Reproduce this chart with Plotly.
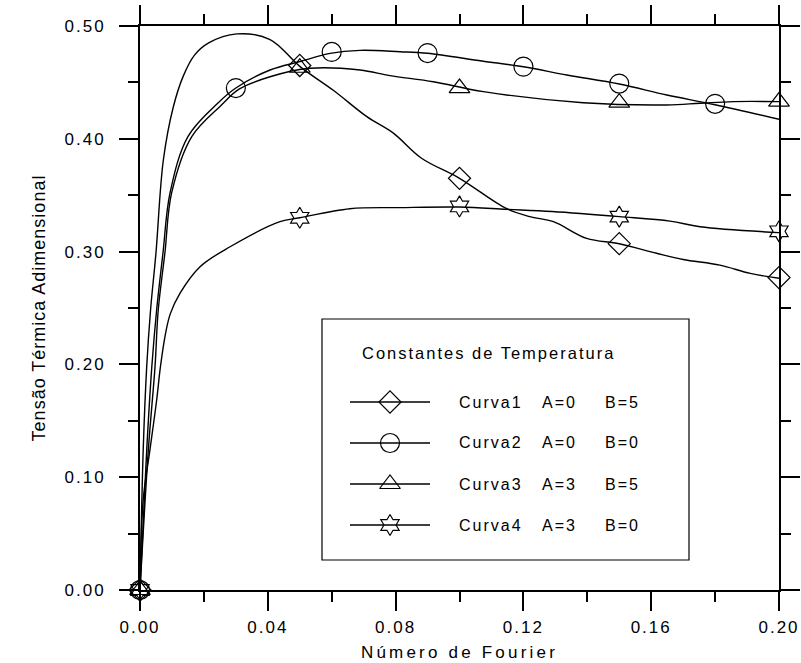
import plotly.graph_objects as go

# ---- data ----
c1_x = [0, 0.001, 0.0021, 0.0033, 0.0050, 0.0073, 0.0104, 0.0136, 0.0170, 0.0215, 0.0303, 0.0407,
        0.0501, 0.0605, 0.071, 0.0793, 0.088, 0.100, 0.1148, 0.122, 0.1294, 0.1398, 0.150,
        0.1617, 0.170, 0.1815, 0.191, 0.2]
c1_y = [0, 0.124, 0.198, 0.248, 0.299, 0.381, 0.428, 0.456, 0.474, 0.485, 0.493, 0.488,
        0.464, 0.443, 0.4196, 0.405, 0.383, 0.365, 0.338, 0.331, 0.3265, 0.3117, 0.307,
        0.2985, 0.293, 0.288, 0.2807, 0.2763]

c2_x = [0, 0.0021, 0.0037, 0.0052, 0.0072, 0.0094, 0.0150, 0.0245, 0.030, 0.0407, 0.0501,
        0.0595, 0.0689, 0.0814, 0.09, 0.107, 0.12, 0.1336, 0.15, 0.1649, 0.18, 0.2]
c2_y = [0, 0.124, 0.198, 0.248, 0.299, 0.352, 0.402, 0.432, 0.445, 0.461, 0.4685,
        0.4757, 0.4784, 0.4772, 0.4758, 0.469, 0.4639, 0.4566, 0.4486, 0.4388, 0.4302, 0.4173]

c3_x = [0, 0.0026, 0.0047, 0.0057, 0.0078, 0.0099, 0.0162, 0.0255, 0.031, 0.0407, 0.0532,
        0.0689, 0.0782, 0.0918, 0.1075, 0.1387, 0.1649, 0.1753, 0.1857, 0.2]
c3_y = [0, 0.124, 0.198, 0.248, 0.299, 0.352, 0.402, 0.430, 0.444, 0.455, 0.4625,
        0.461, 0.456, 0.4506, 0.4418, 0.432, 0.430, 0.4315, 0.433, 0.433]

c4_x = [0, 0.001, 0.0031, 0.0052, 0.0064, 0.0080, 0.0095, 0.0125, 0.0188, 0.0282, 0.0438,
        0.05, 0.0657, 0.0814, 0.1, 0.1148, 0.129, 0.15, 0.1659, 0.1753, 0.2]
c4_y = [0, 0.08, 0.124, 0.168, 0.198, 0.2275, 0.245, 0.263, 0.2866, 0.3043, 0.3265,
        0.330, 0.338, 0.339, 0.3395, 0.3375, 0.3355, 0.331, 0.327, 0.322, 0.3168]

m1_x = [0, 0.05, 0.10, 0.15, 0.20]
m1_y = [0, 0.465, 0.365, 0.307, 0.277]
m2_x = [0, 0.03, 0.06, 0.09, 0.12, 0.15, 0.18]
m2_y = [0, 0.445, 0.477, 0.476, 0.464, 0.449, 0.431]
m3_x = [0, 0.05, 0.10, 0.15, 0.20]
m3_y = [0, 0.463, 0.445, 0.432, 0.433]
m4_x = [0, 0.05, 0.10, 0.15, 0.20]
m4_y = [0, 0.330, 0.340, 0.331, 0.318]

legend_title = "Constantes de Temperatura"
legend_names = ["Curva1", "Curva2", "Curva3", "Curva4"]
legend_a = ["A=0", "A=0", "A=3", "A=3"]
legend_b = ["B=5", "B=0", "B=5", "B=0"]

x_ticks = [0.00, 0.04, 0.08, 0.12, 0.16, 0.20]
y_ticks = [0.00, 0.10, 0.20, 0.30, 0.40, 0.50]

# ---- styles ----
FONT = "Liberation Sans, Arial, sans-serif"
LS = 2.0  # letter spacing applied to annotation / tick text
curves = [(c1_x, c1_y, m1_x, m1_y, "diamond-open", 17),
          (c2_x, c2_y, m2_x, m2_y, "circle-open", 19),
          (c3_x, c3_y, m3_x, m3_y, "triangle-up-open", 18),
          (c4_x, c4_y, m4_x, m4_y, "hexagram-open", 16)]

fig = go.Figure()
for i, (lx, ly, mx, my, sym, sz) in enumerate(curves):
    fig.add_trace(go.Scatter(x=lx, y=ly, mode="lines", line=dict(color="black", width=1.4,
                  shape="spline", smoothing=1.0), showlegend=False, cliponaxis=False,
                  hoverinfo="skip"))
    fig.add_trace(go.Scatter(x=mx, y=my, mode="markers", name=legend_names[i],
                  marker=dict(symbol=sym, size=sz, color="black", line=dict(width=1.2, color="black")),
                  showlegend=False, cliponaxis=False))

# ---- custom legend (in plot-area fractions on an overlay axis) ----
W, H = 639.0, 564.0
def px2x(p):
    return (p - 140) / W
def py2y(p):
    return (590 - p) / H
def left_text_x(p, txt, ls=LS):
    # annotation text is centred in its box, so widen by half the added spacing
    return px2x(p + len(txt) * ls / 2.0)

box = dict(x0=px2x(322), x1=px2x(689), y0=py2y(560), y1=py2y(319))
fig.add_shape(type="rect", xref="paper", yref="paper", **box,
              line=dict(color="black", width=1.2), fillcolor="rgba(0,0,0,0)")
row_py = [402, 443, 484, 525]
for i, (_, _, _, _, sym, sz) in enumerate(curves):
    yy = py2y(row_py[i])
    fig.add_trace(go.Scatter(x=[px2x(350), px2x(430)], y=[yy, yy], mode="lines",
                  line=dict(color="black", width=1.4), xaxis="x2", yaxis="y2",
                  showlegend=False, hoverinfo="skip"))
    fig.add_trace(go.Scatter(x=[px2x(390)], y=[yy], mode="markers",
                  marker=dict(symbol=sym, size=sz, color="black", line=dict(width=1.2, color="black")),
                  xaxis="x2", yaxis="y2", showlegend=False, hoverinfo="skip"))
    for txt, pxx in ((legend_names[i], 457), (legend_a[i], 540), (legend_b[i], 603)):
        fig.add_annotation(x=left_text_x(pxx, txt), y=yy, xref="paper", yref="paper", text=txt,
                           showarrow=False, xanchor="left", yanchor="middle",
                           font=dict(family=FONT, size=16, color="black"))
fig.add_annotation(x=left_text_x(360, legend_title), y=py2y(353), xref="paper", yref="paper",
                   text=legend_title, showarrow=False, xanchor="left", yanchor="middle",
                   font=dict(family=FONT, size=16.5, color="black"))

axis_common = dict(showgrid=False, zeroline=False, showline=True, linecolor="black",
                   linewidth=2, mirror="ticks", ticks="outside", ticklen=19, tickwidth=2,
                   tickcolor="black", tickformat=".2f", automargin=False,
                   tickfont=dict(family=FONT, size=17, color="black"))

fig.update_layout(
    width=801, height=663,
    margin=dict(l=140, r=22, t=26, b=73),
    paper_bgcolor="white", plot_bgcolor="white",
    showlegend=False,
    font=dict(family=FONT, color="black"),
    xaxis=dict(range=[0, 0.2], tickvals=x_ticks, **axis_common,
               minor=dict(dtick=0.02, ticks="outside", ticklen=10, tickwidth=2, tickcolor="black"),
               ticklabelstandoff=2,
               title=dict(text="Número de Fourier", font=dict(family=FONT, size=17, color="black"),
                          standoff=10)),
    yaxis=dict(range=[0, 0.5], tickvals=y_ticks, **axis_common,
               minor=dict(dtick=0.05, ticks="outside", ticklen=10, tickwidth=2, tickcolor="black"),
               ticklabelstandoff=10,
               title=dict(text="Tensão Térmica Adimensional", font=dict(family=FONT, size=18, color="black"),
                          standoff=22)),
    xaxis2=dict(range=[0, 1], overlaying="x", visible=False, fixedrange=True),
    yaxis2=dict(range=[0, 1], overlaying="y", visible=False, fixedrange=True),
)

post = """
var gd = document.getElementById('{plot_id}');
gd.querySelectorAll('.xtick text, .ytick text, .annotation-text').forEach(function(t){t.style.letterSpacing='2px';});
gd.querySelectorAll('.g-xtitle text').forEach(function(t){t.style.letterSpacing='3.2px';});
gd.querySelectorAll('.g-ytitle text').forEach(function(t){t.style.letterSpacing='1px';});
"""
fig.write_html("out.html", post_script=post)
